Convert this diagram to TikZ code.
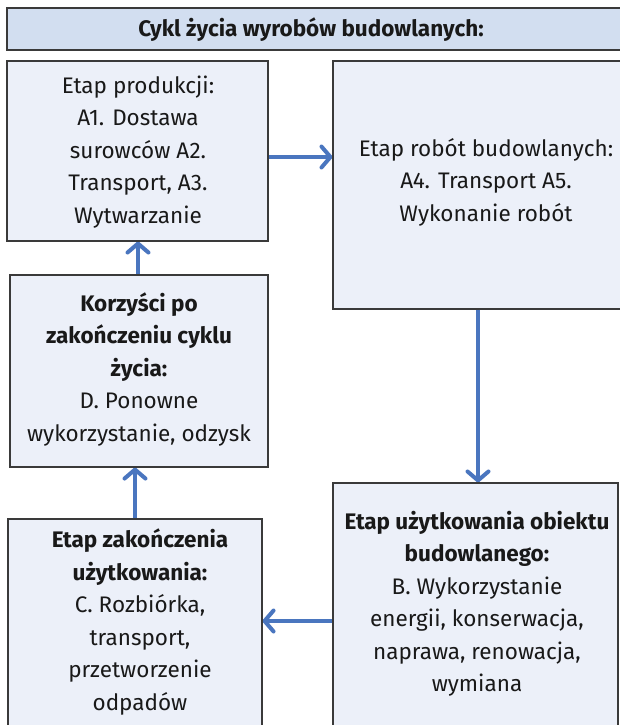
\documentclass[tikz,border=0pt]{standalone}
\usepackage{fontspec}
\setmainfont{Fira Sans}
\usetikzlibrary{arrows.meta}
\definecolor{boxfill}{HTML}{ECF0F9}
\definecolor{titlefill}{HTML}{D2DEF0}
\definecolor{arrowblue}{HTML}{4A76BF}
\definecolor{edge}{HTML}{3A3A3A}
\tikzset{
  box/.style={draw=edge, fill=boxfill, line width=1.1pt, inner sep=0pt},
  titlebox/.style={draw=edge, fill=titlefill, line width=1.1pt, inner sep=0pt},
  txt/.style={align=center, inner sep=0pt, text=black!90, font=\fontsize{22.5pt}{32.5pt}\selectfont},
  arr/.style={draw=arrowblue, line width=4pt, -{Straight Barb[length=9pt,width=21pt,round]}}
}
\begin{document}
\begin{tikzpicture}[x=1pt,y=-1pt]
\path[use as bounding box] (0,0) rectangle (620,725);
\clip (0,0) rectangle (620,725);
\fill[white] (0,0) rectangle (620,725);
% title
\node[titlebox, minimum width=630pt, minimum height=42pt] (T) at (322,29) {};
\node[txt, font=\fontsize{22.5pt}{26pt}\selectfont\bfseries] (Tt) at (311,30) {Cykl życia wyrobów budowlanych:};
% boxes
\node[box, minimum width=261pt, minimum height=180pt] (A) at (137.5,151) {};
\node[box, minimum width=306pt, minimum height=248pt] (R) at (486,185) {};
\node[box, minimum width=258pt, minimum height=192pt] (D) at (139,371) {};
\node[box, minimum width=254pt, minimum height=260pt] (C) at (135,649) {};
\node[box, minimum width=285pt, minimum height=260pt] (B) at (475.5,613) {};
% texts
\node[txt] (At) at (138,152) {Etap produkcji:\\A1. Dostawa\\surowców A2.\\Transport, A3.\\Wytwarzanie};
\node[txt] (Rt) at (486,182) {Etap robót budowlanych:\\A4. Transport A5.\\Wykonanie robót};
\node[txt] (Dt) at (139,369) {\textbf{Korzyści po}\\\textbf{zakończeniu cyklu}\\\textbf{życia:}\\D. Ponowne\\wykorzystanie, odzysk};
\node[txt] (Ct) at (140,622) {\textbf{Etap zakończenia}\\\textbf{użytkowania:}\\C. Rozbiórka,\\transport,\\przetworzenie\\odpadów};
\node[txt] (Bt) at (477,604) {\textbf{Etap użytkowania obiektu}\\\textbf{budowlanego:}\\B. Wykorzystanie\\energii, konserwacja,\\naprawa, renowacja,\\wymiana};
% arrows
\draw[arr] ([yshift=-6pt]A.east) -- ([yshift=-6pt]A.east -| R.west);
\draw[arr] ([xshift=-8pt]R.south) -- ([xshift=-8pt]R.south |- B.north);
\draw[arr] (B.west |- 0,621) -- (C.east |- 0,621);
\draw[arr] (C.north) -- (C.north |- D.south);
\draw[arr] ([xshift=-1pt]D.north) -- ([xshift=-1pt]D.north |- A.south);
\end{tikzpicture}
\end{document}
